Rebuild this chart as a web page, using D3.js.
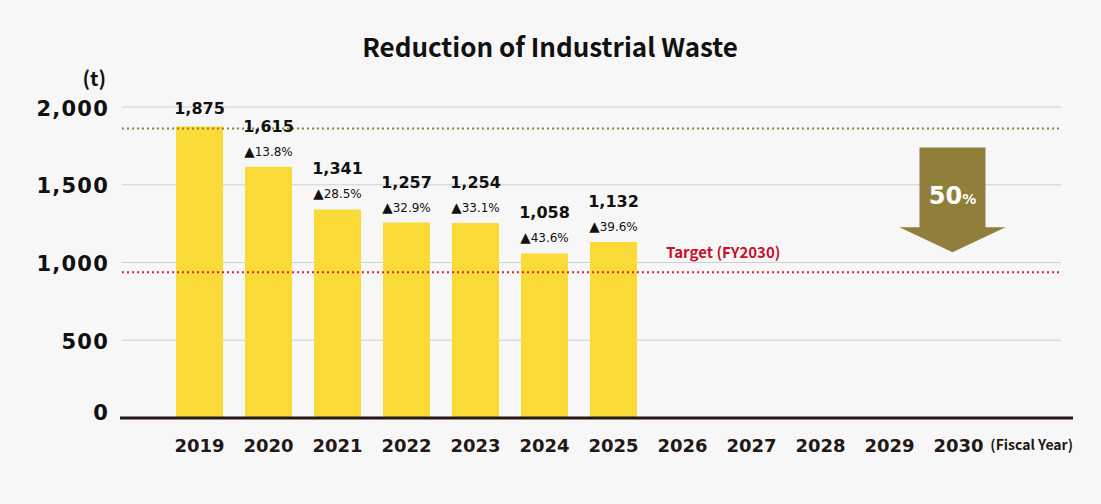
<!DOCTYPE html>
<html>
<head>
<meta charset="utf-8">
<script src="https://cdn.jsdelivr.net/npm/d3@7"></script>
<style>
  html, body { margin: 0; padding: 0; background: #f7f7f7; }
  svg { display: block; }
  .num { font-family: "DejaVu Sans", sans-serif; font-weight: bold; fill: #111; }
  .jp { font-family: "Noto Sans CJK JP", "Noto Sans", sans-serif; font-weight: bold; }
</style>
</head>
<body>
<div id="chart"></div>
<script>
// chart data
const years = ["2019", "2020", "2021", "2022", "2023", "2024", "2025", "2026", "2027", "2028", "2029", "2030"];
const values = [1875, 1615, 1341, 1257, 1254, 1058, 1132];
const reductions = [null, 13.8, 28.5, 32.9, 33.1, 43.6, 39.6];
const yTicks = [0, 500, 1000, 1500, 2000];
const baseValue = 1875;
const targetValue = 937.5;
const targetLabel = "Target (FY2030)";
const targetCut = 50;

const width = 1101,
  height = 504;

const svg = d3
  .select("#chart")
  .append("svg")
  .attr("width", width)
  .attr("height", height);

svg.append("rect").attr("width", width).attr("height", height).attr("fill", "#f7f7f7");

const x = d3.scaleBand().domain(years).range([165, 993]).paddingInner(0.32).paddingOuter(0.16);
const y = d3.scaleLinear().domain([0, 2000]).range([418, 107]);

const data = values.map((v, i) => ({ year: years[i], value: v, cut: reductions[i] }));

// title
svg
  .append("text")
  .attr("class", "jp")
  .attr("x", 550)
  .attr("y", 57)
  .attr("text-anchor", "middle")
  .style("font-size", "26px")
  .style("fill", "#111")
  .text("Reduction of Industrial Waste");

// unit
svg
  .append("text")
  .attr("class", "jp")
  .attr("x", 106)
  .attr("y", 86)
  .attr("text-anchor", "end")
  .style("font-size", "20px")
  .style("fill", "#111")
  .text("(t)");

// gridlines
svg
  .selectAll("line.grid")
  .data(yTicks.filter((d) => d > 0))
  .join("line")
  .attr("class", "grid")
  .attr("x1", 122)
  .attr("x2", 1061)
  .attr("y1", (d) => y(d))
  .attr("y2", (d) => y(d))
  .attr("stroke", "#cfcfcf")
  .attr("stroke-width", 1);

// y tick labels
svg
  .selectAll("text.ytick")
  .data(yTicks)
  .join("text")
  .attr("class", "ytick num")
  .attr("x", 109)
  .attr("y", (d) => (d === 0 ? y(d) + 2 : y(d) + 8.5))
  .attr("text-anchor", "end")
  .style("font-size", "21px")
  .style("letter-spacing", "1.2px")
  .text((d) => d3.format(",")(d));

// bars
const bw = 47;
svg
  .selectAll("rect.bar")
  .data(data)
  .join("rect")
  .attr("class", "bar")
  .attr("x", (d) => x(d.year) + x.bandwidth() / 2 - bw / 2)
  .attr("y", (d) => y(d.value))
  .attr("width", bw)
  .attr("height", (d) => y(0) - y(d.value))
  .attr("fill", "#f9da36");

// reference line (FY2019) and target line
svg
  .append("line")
  .attr("x1", 122)
  .attr("x2", 1060)
  .attr("y1", y(baseValue) + 2)
  .attr("y2", y(baseValue) + 2)
  .attr("stroke", "#8f7f3a")
  .attr("stroke-width", 2)
  .attr("stroke-dasharray", "2,3");

svg
  .append("line")
  .attr("x1", 122)
  .attr("x2", 1060)
  .attr("y1", y(targetValue))
  .attr("y2", y(targetValue))
  .attr("stroke", "#d81f3c")
  .attr("stroke-width", 2)
  .attr("stroke-dasharray", "2,3");

svg
  .append("text")
  .attr("class", "jp")
  .attr("x", 666)
  .attr("y", y(targetValue) - 14)
  .style("font-size", "15px")
  .style("fill", "#c8102e")
  .text(targetLabel);

// value labels
svg
  .selectAll("text.val")
  .data(data)
  .join("text")
  .attr("class", "val num")
  .attr("x", (d) => x(d.year) + x.bandwidth() / 2)
  .attr("y", (d) => y(d.value) - (d.cut == null ? 12 : 35))
  .attr("text-anchor", "middle")
  .style("font-size", "16px")
  .text((d) => d3.format(",")(d.value));

// reduction labels
const cutText = svg
  .selectAll("text.cut")
  .data(data.filter((d) => d.cut != null))
  .join("text")
  .attr("class", "cut")
  .attr("x", (d) => x(d.year) + x.bandwidth() / 2)
  .attr("y", (d) => y(d.value) - 11)
  .attr("text-anchor", "middle")
  .style("font-family", "'DejaVu Sans', sans-serif")
  .style("font-size", "12px")
  .style("fill", "#111");
cutText.append("tspan").style("font-size", "13.5px").text("▲");
cutText.append("tspan").text((d) => d.cut.toFixed(1) + "%");

// x axis line
svg
  .append("line")
  .attr("x1", 120)
  .attr("x2", 1073)
  .attr("y1", y(0))
  .attr("y2", y(0))
  .attr("stroke", "#231815")
  .attr("stroke-width", 3);

// year labels
svg
  .selectAll("text.year")
  .data(years)
  .join("text")
  .attr("class", "year num")
  .attr("x", (d) => x(d) + x.bandwidth() / 2)
  .attr("y", 452)
  .attr("text-anchor", "middle")
  .style("font-size", "18px")
  .style("fill", "#231815")
  .text((d) => d);

svg
  .append("text")
  .attr("class", "jp")
  .attr("x", 1073)
  .attr("y", 450)
  .attr("text-anchor", "end")
  .style("font-size", "14px")
  .style("fill", "#231815")
  .text("(Fiscal Year)");

// 50% reduction arrow
const cx = x("2030") + x.bandwidth() / 2 - 6;
const arrowTop = y(baseValue) + 21,
  arrowNeck = y(targetValue) - 45,
  arrowTip = y(targetValue) - 20;
svg
  .append("path")
  .attr(
    "d",
    `M${cx - 33},${arrowTop} H${cx + 33} V${arrowNeck} H${cx + 53} L${cx},${arrowTip} L${cx - 53},${arrowNeck} H${cx - 33} Z`
  )
  .attr("fill", "#8f7f3a");

const pctText = svg
  .append("text")
  .attr("class", "num")
  .attr("x", cx)
  .attr("y", arrowTop + 57)
  .attr("text-anchor", "middle")
  .style("fill", "#fff");
pctText.append("tspan").style("font-size", "24px").text(targetCut);
pctText.append("tspan").style("font-size", "14px").text("%");
</script>
</body>
</html>
